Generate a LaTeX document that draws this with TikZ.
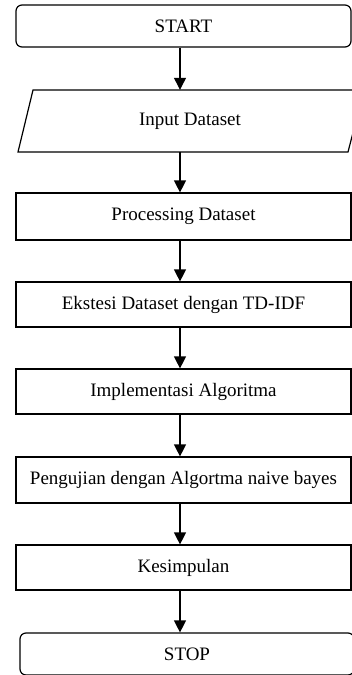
\documentclass[tikz,border=0pt]{standalone}
\usepackage{fontspec}
\setmainfont{Liberation Serif}
\usetikzlibrary{arrows.meta}
\begin{document}
\begin{tikzpicture}[x=1pt,y=-1pt,
  every node/.style={font=\fontsize{19}{23}\selectfont, inner sep=0pt},
  boxstyle/.style={draw, line width=1.2pt, rectangle, minimum width=335pt},
  termstyle/.style={draw, line width=1.2pt, rectangle, rounded corners=6pt},
  iostyle/.style={rectangle, minimum width=300pt, minimum height=62pt},
  ioline/.style={draw, line width=1.2pt, line join=miter},
  arr/.style={line width=1.2pt, -{Triangle[width=12pt,length=12pt]}}]
\clip (0,0) rectangle (352,675);
\useasboundingbox (0,0) rectangle (352,675);
\fill[white] (0,0) rectangle (352,675);
\node[termstyle, minimum width=335pt, minimum height=42pt] (start) at (183.5,26) {START};
\node[iostyle] (input) at (190,121) {Input Dataset};
\draw[ioline] (33,90) -- (364,90) -- (348,152) -- (18,152) -- cycle;
\node[boxstyle, minimum height=47pt] (proc) at (183.5,216.5) {Processing Dataset};
\node[boxstyle, minimum height=45pt] (ekst) at (183.5,304.5) {Ekstesi Dataset dengan TD-IDF};
\node[boxstyle, minimum height=45pt] (impl) at (183.5,391.5) {Implementasi Algoritma};
\node[boxstyle, minimum height=46pt] (peng) at (183.5,480) {Pengujian dengan Algortma naive bayes};
\node[boxstyle, minimum height=45pt] (kesi) at (183.5,567.5) {Kesimpulan};
\node[termstyle, minimum width=334pt, minimum height=42pt] (stop) at (187,654) {STOP};
\coordinate (ax) at (180,0);
\draw[arr] (start.south -| ax) -- (input.north -| ax);
\draw[arr] (input.south -| ax) -- (proc.north -| ax);
\draw[arr] (proc.south -| ax) -- (ekst.north -| ax);
\draw[arr] (ekst.south -| ax) -- (impl.north -| ax);
\draw[arr] (impl.south -| ax) -- (peng.north -| ax);
\draw[arr] (peng.south -| ax) -- (kesi.north -| ax);
\draw[arr] (kesi.south -| ax) -- (stop.north -| ax);
\end{tikzpicture}
\end{document}
